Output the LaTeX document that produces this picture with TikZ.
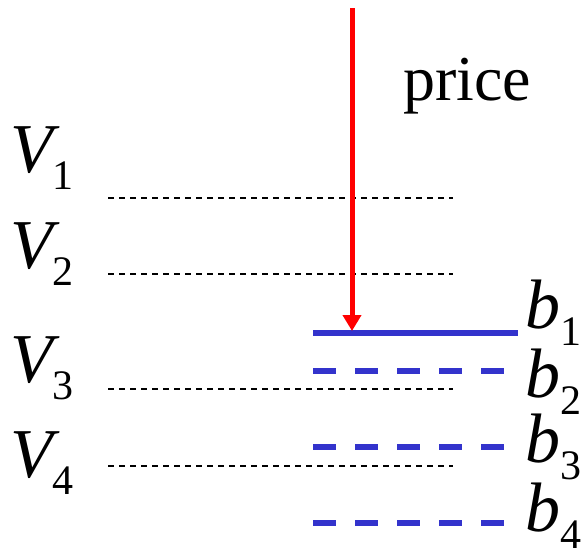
\documentclass[tikz,border=0pt]{standalone}
\usepackage{fontspec}
\setmainfont{Liberation Serif}
\usetikzlibrary{arrows.meta}
\definecolor{bidblue}{RGB}{51,51,204}
\definecolor{pricered}{RGB}{255,0,0}
\newcommand{\lbl}[2]{{\fontsize{70}{70}\selectfont\itshape #1}\raisebox{-17pt}{\fontsize{42}{42}\selectfont #2}}
\tikzset{
  lab/.style={anchor=base west, inner sep=0pt, outer sep=0pt},
  valline/.style={black, line width=1.4pt, dash pattern=on 6pt off 5pt},
  bidsolid/.style={bidblue, line width=6pt},
  biddash/.style={bidblue, line width=6pt, dash pattern=on 23pt off 19pt},
  pricearrow/.style={pricered, line width=5pt, -{Triangle[width=18pt,length=16pt]}}
}
\begin{document}
\begin{tikzpicture}[x=1pt,y=-1pt]
\useasboundingbox (0,0) rectangle (586,554);
% value levels
\coordinate (v1a) at (108,198); \coordinate (v1b) at (453,198);
\coordinate (v2a) at (108,274); \coordinate (v2b) at (453,274);
\coordinate (v3a) at (108,389); \coordinate (v3b) at (453,389);
\coordinate (v4a) at (108,466); \coordinate (v4b) at (453,466);
\draw[valline] (v1a) -- (v1b);
\draw[valline] (v2a) -- (v2b);
\draw[valline] (v3a) -- (v3b);
\draw[valline] (v4a) -- (v4b);
% bids
\coordinate (b1a) at (313,333); \coordinate (b1b) at (518,333);
\coordinate (b2a) at (313,371); \coordinate (b2b) at (505,371);
\coordinate (b3a) at (313,447); \coordinate (b3b) at (505,447);
\coordinate (b4a) at (313,523); \coordinate (b4b) at (505,523);
\draw[bidsolid] (b1a) -- (b1b);
\draw[biddash] (b2a) -- (b2b);
\draw[biddash] (b3a) -- (b3b);
\draw[biddash] (b4a) -- (b4b);
% price arrow
\coordinate (ptop) at (352,8);
\coordinate (pbot) at (352,331);
\draw[pricearrow] (ptop) -- (pbot);
\node[lab, font=\fontsize{64}{64}\selectfont] (price) at (403,100) {price};
% labels
\node[lab] (V1) at (10,172) {\lbl{V}{1}};
\node[lab] (V2) at (10,268) {\lbl{V}{2}};
\node[lab] (V3) at (10,382) {\lbl{V}{3}};
\node[lab] (V4) at (10,477) {\lbl{V}{4}};
\node[lab] (B1) at (525,328) {\lbl{b}{1}};
\node[lab] (B2) at (525,397) {\lbl{b}{2}};
\node[lab] (B3) at (525,462) {\lbl{b}{3}};
\node[lab] (B4) at (525,531) {\lbl{b}{4}};
\end{tikzpicture}
\end{document}
